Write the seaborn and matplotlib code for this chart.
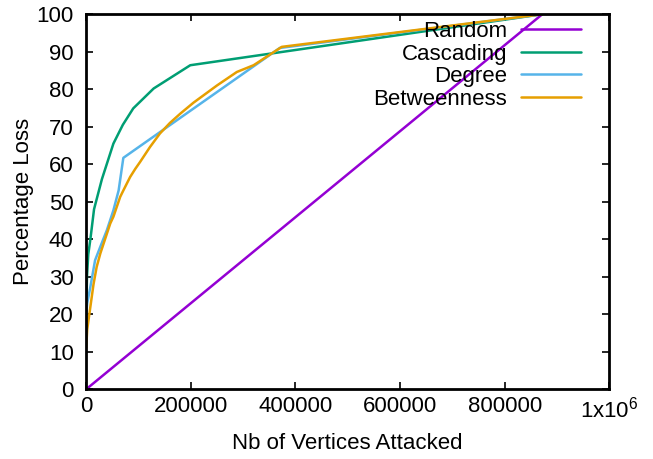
import pandas as pd
import numpy as np
import matplotlib
matplotlib.use("Agg")
import matplotlib.pyplot as plt
import seaborn as sns

# values (x = vertices attacked, y = % loss)
random_x = [0, 872000]
random_y = [0, 100]

cascading_x = [0, 1500, 4000, 8000, 15000, 30000, 52000, 70000, 90000, 129000, 199000, 872000]
cascading_y = [19, 30, 36, 40, 48, 56, 65.5, 70.5, 74.9, 80.2, 86.4, 100]

degree_x = [0, 2000, 7600, 17000, 27000, 39500, 52000, 62000, 71000, 370000, 872000]
degree_y = [20, 23, 27, 34.4, 38, 42.4, 47.7, 53, 61.7, 91, 100]

betweenness_x = [0, 2000, 6000, 14000, 20000, 27000, 46000, 52000, 65000, 71000, 84000, 94000,
                 103000, 122000, 141000, 160000, 180000, 205000, 250000, 288000, 320000, 374000, 872000]
betweenness_y = [11, 16, 20, 28, 32.6, 36.2, 44.2, 46, 51.3, 53, 56.6, 58.8,
                 60.6, 64.6, 68.2, 71, 73.5, 76.4, 81, 84.6, 86.4, 91.3, 100]

series = {
    "Random": (random_x, random_y),
    "Cascading": (cascading_x, cascading_y),
    "Degree": (degree_x, degree_y),
    "Betweenness": (betweenness_x, betweenness_y),
}
colors = ["#9400d3", "#009e73", "#56b4e9", "#e69f00"]

rows = []
for name, (xs, ys) in series.items():
    for x, y in zip(xs, ys):
        rows.append({"method": name, "x": x, "y": y})
df = pd.DataFrame(rows)

sns.set_style("ticks")
plt.rcParams["font.family"] = ["Liberation Sans", "DejaVu Sans"]
plt.rcParams["mathtext.default"] = "regular"
plt.rcParams["text.color"] = "black"
plt.rcParams["axes.labelcolor"] = "black"
plt.rcParams["xtick.color"] = "black"
plt.rcParams["ytick.color"] = "black"
plt.rcParams["axes.edgecolor"] = "black"

fig, ax = plt.subplots(figsize=(6.53, 4.59), dpi=100)
fig.subplots_adjust(left=0.132, right=0.933, bottom=0.152, top=0.969)

sns.lineplot(data=df, x="x", y="y", hue="method", hue_order=list(series.keys()),
             palette=colors, sort=False, estimator=None, linewidth=1.8, ax=ax)

ax.set_xlim(0, 1000000)
ax.set_ylim(0, 100)
ax.set_xticks([0, 200000, 400000, 600000, 800000, 1000000])
ax.set_xticklabels(["0", "200000", "400000", "600000", "800000", "1x10$^{6}$"])
ax.set_yticks(range(0, 101, 10))
ax.tick_params(direction="in", length=5, width=1.2, labelsize=16, top=True, right=True)
ax.tick_params(axis="x", pad=5)
ax.tick_params(axis="y", pad=9)
for s in ax.spines.values():
    s.set_linewidth(2)
    s.set_visible(True)

ax.set_xlabel("Nb of Vertices Attacked", fontsize=16, labelpad=8)
ax.set_ylabel("Percentage Loss", fontsize=16, labelpad=2)

ax.legend(loc="upper right", bbox_to_anchor=(581 / 653, 1 - 21 / 459), bbox_transform=fig.transFigure,
          frameon=False, markerfirst=False, fontsize=16, handlelength=2.7, handletextpad=0.63,
          labelspacing=0.07, borderpad=0, borderaxespad=0)

fig.savefig("out.png", dpi=100)
